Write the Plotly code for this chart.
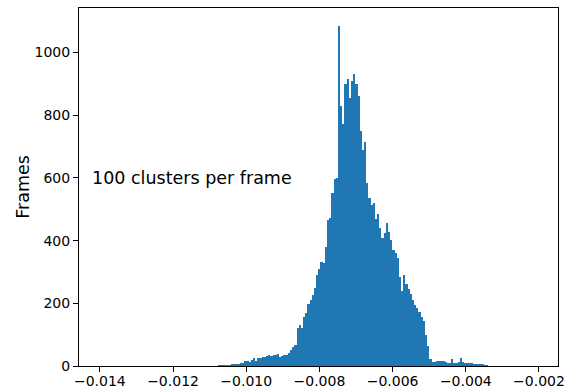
import numpy as np
import plotly.graph_objects as go

# Histogram bins (200 equal bins)
bin_lo = -0.01398
bin_hi = -0.00208
n_bins = 200

# counts for bins 45..177 (others are zero)
first_bin = 45
counts_part = [
    0, 0, 0, 0, 0,                      # 45-49
    0, 0, 0, 0, 1, 1, 1, 2, 2, 3,       # 50-59
    4, 4, 6, 7, 9, 11, 15, 16, 13, 20,  # 60-69
    24, 17, 24, 26, 29, 30, 32, 34, 33, 35,  # 70-79
    36, 38, 29, 31, 34, 36, 41, 52, 60, 68,  # 80-89
    120, 131, 122, 155, 168, 197, 212, 226, 250, 290,  # 90-99
    308, 333, 330, 380, 465, 473, 552, 595, 600, 1085,  # 100-109
    829, 771, 898, 915, 856, 910, 930, 898, 860, 750,  # 110-119
    690, 715, 584, 536, 514, 519, 470, 485, 440, 408,  # 120-129
    424, 456, 428, 402, 370, 360, 345, 285, 240, 290,  # 130-139
    262, 245, 230, 211, 195, 185, 172, 155, 145, 99,   # 140-149
    65, 22, 14, 14, 15, 15, 17, 16, 14, 11,            # 150-159
    11, 21, 9, 9, 12, 24, 14, 11, 11, 10,              # 160-169
    9, 6, 6, 5, 5, 4, 1, 1,                            # 170-177
]

edges = np.linspace(bin_lo, bin_hi, n_bins + 1)
centers = 0.5 * (edges[:-1] + edges[1:])
width = edges[1] - edges[0]
counts = np.zeros(n_bins)
counts[first_bin:first_bin + len(counts_part)] = counts_part

x_ticks = [-0.014, -0.012, -0.010, -0.008, -0.006, -0.004, -0.002]
x_tick_text = ["\u22120.014", "\u22120.012", "\u22120.010", "\u22120.008",
               "\u22120.006", "\u22120.004", "\u22120.002"]
y_ticks = [0, 200, 400, 600, 800, 1000]

fig = go.Figure()
fig.add_trace(go.Bar(
    x=centers, y=counts, width=width,
    marker=dict(color="#1f77b4", line=dict(width=0)),
    showlegend=False,
))

font_family = "DejaVu Sans"
fig.update_layout(
    width=565, height=388,
    margin=dict(l=79, r=7, t=8, b=22),
    paper_bgcolor="white", plot_bgcolor="white",
    bargap=0,
    font=dict(family=font_family, color="black"),
    xaxis=dict(
        range=[-0.01457, -0.00148],
        tickvals=x_ticks, ticktext=x_tick_text,
        ticks="outside", ticklen=5, tickwidth=1, tickcolor="black",
        showline=True, linecolor="black", linewidth=1, mirror=True,
        showgrid=False, zeroline=False, automargin=False,
        ticklabelstandoff=-3,
        tickfont=dict(size=14, family=font_family),
    ),
    yaxis=dict(
        range=[0, 1142],
        tickvals=y_ticks,
        ticks="outside", ticklen=5, tickwidth=1, tickcolor="black",
        showline=True, linecolor="black", linewidth=1, mirror=True,
        showgrid=False, zeroline=False, automargin=False,
        tickfont=dict(size=14, family=font_family),
        title=dict(text="Frames", font=dict(size=17.5, family=font_family), standoff=0),
    ),
    annotations=[dict(
        x=-0.01428, y=600, xref="x", yref="y",
        text="100 clusters per frame", showarrow=False,
        xanchor="left", yanchor="middle",
        font=dict(size=17.5, family=font_family, color="black"),
    )],
)

fig.write_html("out.html")
